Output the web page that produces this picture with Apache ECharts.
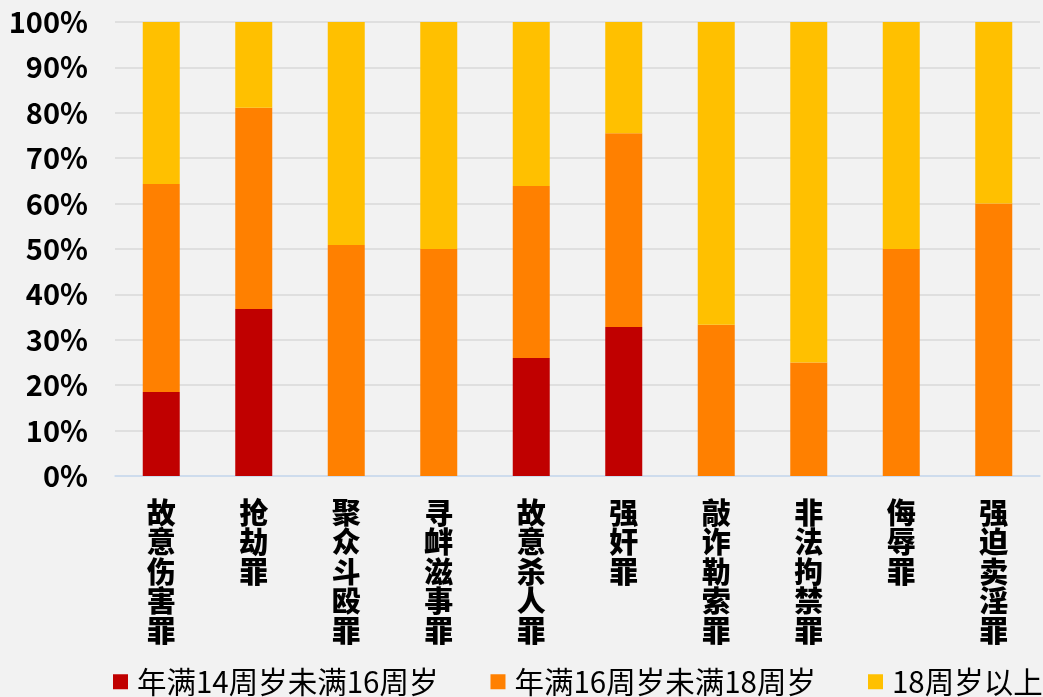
<!DOCTYPE html>
<html>
<head>
<meta charset="utf-8">
<script src="https://cdn.jsdelivr.net/npm/echarts@6/dist/echarts.min.js"></script>
<style>
html,body{margin:0;padding:0;background:#f2f2f2;}
#main{width:1043px;height:697px;}
</style>
</head>
<body>
<div id="main"></div>
<script>
var categories = ['故意伤害罪','抢劫罪','聚众斗殴罪','寻衅滋事罪','故意杀人罪','强奸罪','敲诈勒索罪','非法拘禁罪','侮辱罪','强迫卖淫罪'];
var seriesNames = ['年满14周岁未满16周岁','年满16周岁未满18周岁','18周岁以上'];
var age14to16 = [18.5, 36.8, 0, 0, 26.0, 32.8, 0, 0, 0, 0];
var age16to18 = [45.8, 44.3, 50.9, 50.0, 37.9, 42.7, 33.3, 25.0, 50.0, 60.0];
var age18plus = [35.7, 18.9, 49.1, 50.0, 36.1, 24.5, 66.7, 75.0, 50.0, 40.0];
var yTicks = {min: 0, max: 100, interval: 10};

var chart = echarts.init(document.getElementById('main'));
var colors = ['#c00000', '#ff8000', '#ffc000'];
var dataSets = [age14to16, age16to18, age18plus];

chart.setOption({
  backgroundColor: '#f2f2f2',
  animation: false,
  textStyle: {fontFamily: '"Noto Sans CJK SC", "Noto Sans", sans-serif'},
  grid: {left: 115, right: 3, top: 22, bottom: 221},
  legend: {
    data: seriesNames,
    left: 113,
    top: 667,
    width: 1000,
    padding: 0,
    itemWidth: 15,
    itemHeight: 15,
    itemGap: 52,
    icon: 'rect',
    textStyle: {fontSize: 29.5, color: '#000', padding: [0,0,0,4], fontFamily: '"Noto Sans CJK SC", sans-serif'}
  },
  xAxis: {
    type: 'category',
    data: categories,
    axisTick: {show: false},
    axisLine: {lineStyle: {color: '#c9dcf2', width: 1.5}},
    axisLabel: {
      interval: 0,
      margin: 22,
      verticalAlign: 'top',
      color: '#000',
      fontSize: 29,
      fontWeight: 900,
      lineHeight: 29.5,
      fontFamily: '"Noto Sans CJK SC", sans-serif',
      formatter: function (v) { return v.split('').join('\n'); }
    }
  },
  yAxis: {
    type: 'value',
    min: yTicks.min,
    max: yTicks.max,
    interval: yTicks.interval,
    axisLine: {show: false},
    axisTick: {show: false},
    splitLine: {lineStyle: {color: '#d9d9d9', width: 1.5}},
    axisLabel: {
      formatter: '{value}%',
      margin: 27,
      color: '#000',
      fontSize: 29,
      fontWeight: 'bold',
      fontFamily: '"Noto Sans CJK SC", sans-serif'
    }
  },
  series: seriesNames.map(function (name, i) {
    return {
      name: name,
      type: 'bar',
      stack: 'total',
      barWidth: '40%',
      itemStyle: {color: colors[i]},
      data: dataSets[i]
    };
  })
});
</script>
</body>
</html>
